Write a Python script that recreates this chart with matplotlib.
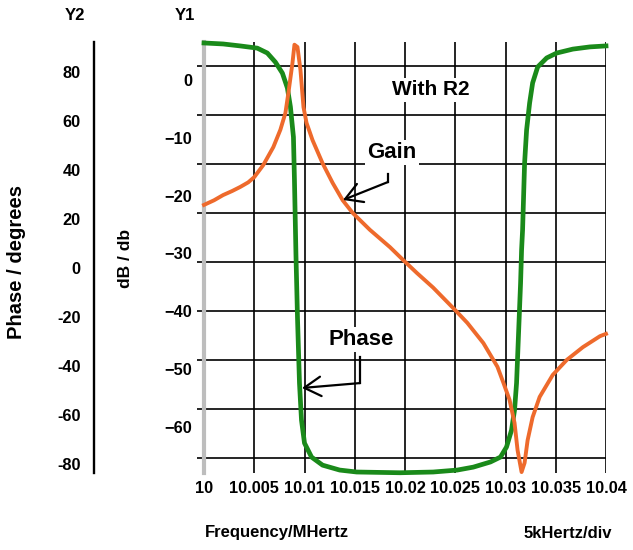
import matplotlib
matplotlib.use("Agg")
import matplotlib.pyplot as plt
from matplotlib.transforms import ScaledTranslation

# ---------------- data ----------------
freq_gain = [10.0000, 10.0010, 10.0019, 10.0028, 10.0036, 10.0044, 10.0050, 10.0059,
             10.0069, 10.0076, 10.0081, 10.0084, 10.0088, 10.0090, 10.0093, 10.0096,
             10.0099, 10.0102, 10.0108, 10.0118, 10.0128, 10.0138, 10.0148, 10.0165,
             10.0185, 10.0198, 10.0212, 10.0228, 10.0250, 10.0262, 10.0278, 10.0292,
             10.0298, 10.0304, 10.0309, 10.0312, 10.0316, 10.0319, 10.0322, 10.0327,
             10.0334, 10.0347, 10.0361, 10.0377, 10.0394, 10.0400]
gain_db = [-21.6, -20.8, -19.9, -19.2, -18.5, -17.7, -16.8, -14.7,
           -11.6, -8.6, -5.7, -2.2, 2.9, 6.1, 5.7, 1.7,
           -4.7, -7.4, -10.4, -14.4, -17.8, -20.8, -23.0, -25.9,
           -28.9, -31.1, -33.4, -35.9, -39.8, -42.0, -45.5, -49.6,
           -52.4, -55.3, -59.3, -64.0, -67.8, -66.2, -62.3, -58.3,
           -54.8, -51.0, -48.4, -46.2, -44.3, -43.9]

freq_phase = [10.0000, 10.0019, 10.0036, 10.0053, 10.0063, 10.0071, 10.0078, 10.0083,
              10.0086, 10.0089, 10.0090, 10.00915, 10.0093, 10.0095, 10.0097, 10.0100,
              10.0107, 10.0118, 10.0135, 10.0152, 10.0195, 10.0228, 10.0252, 10.0268,
              10.0285, 10.0295, 10.0301, 10.0306, 10.0309, 10.0311, 10.0313, 10.0315,
              10.0316, 10.0317, 10.0319, 10.0321, 10.0324, 10.0327, 10.0332, 10.0341,
              10.0351, 10.0367, 10.0384, 10.0400]
phase_deg = [89.4, 89.0, 88.2, 87.3, 85.3, 81.6, 77.1, 71.0,
             63.3, 51.0, 33.5, 2.9, -22.4, -49.4, -64.5, -73.9,
             -79.6, -82.9, -84.9, -85.7, -86.0, -85.7, -84.9, -83.7,
             -81.6, -79.6, -75.5, -68.6, -60.4, -49.4, -29.0, -8.6,
             4.9, 13.1, 40.4, 53.9, 64.9, 73.1, 79.6, 83.3,
             85.3, 86.9, 87.8, 88.2]

x_ticks = [10.0, 10.005, 10.01, 10.015, 10.02, 10.025, 10.03, 10.035, 10.04]
x_tick_labels = ["10", "10.005", "10.01", "10.015", "10.02", "10.025", "10.03", "10.035", "10.04"]
y1_ticks = [0, -10, -20, -30, -40, -50, -60]
y2_ticks = [80, 60, 40, 20, 0, -20, -40, -60, -80]

# annotation anchors (data units)
gain_label_pos = (10.0187, -12.6)
gain_arrow_corner = (10.01831, -17.64)
gain_arrow_start = (10.01831, -16.2)
gain_arrow_tip = (10.01383, -20.75)
phase_label_pos = (10.01562, -31.8)
phase_arrow_start = (10.01552, -38.6)
phase_arrow_corner = (10.01552, -49.4)
phase_arrow_tip = (10.00975, -51.4)
note_pos = (10.0226, -1.73)

# ---------------- style ----------------
plt.rcParams['font.family'] = ['Liberation Sans', 'DejaVu Sans']
plt.rcParams['font.weight'] = 'bold'

ORANGE = '#EE6A2C'
GREEN = '#1A8A1A'
W, H = 633, 550

fig = plt.figure(figsize=(W / 100, H / 100), dpi=100)
ax = fig.add_axes([204 / W, 77 / H, 402 / W, 431 / H])
ax.set_xlim(10.0, 10.04)
ax.set_ylim(-86.1, 89.8)
ax.set_xticks(x_ticks)
ax.set_xticklabels(x_tick_labels)
ax.set_yticks(y2_ticks)
ax.set_yticklabels([])
ax.grid(True, color='black', lw=1.2)
ax.set_axisbelow(True)
ax.tick_params(axis='x', length=0, pad=6, labelsize=11.8)
ax.tick_params(axis='y', length=5, width=1.2, color='black', direction='out')
for s in ['top', 'right', 'bottom']:
    ax.spines[s].set_visible(False)
ax.spines['left'].set_color('#bdbdbd')
ax.spines['left'].set_linewidth(3)
ax.spines['left'].set_zorder(2.6)

ax.plot(freq_phase, phase_deg, color=GREEN, lw=3.4, clip_on=False,
        solid_joinstyle='round', zorder=3)

# Y2 axis (phase labels) on a separate line to the left
sec = ax.secondary_yaxis(-110 / 402)
sec.set_yticks(y2_ticks)
sec.set_yticklabels([str(v) for v in y2_ticks])
sec.tick_params(axis='y', length=0, pad=9.5, labelsize=11.8)
sec.spines['left'].set_linewidth(1.7)
sec.spines['left'].set_color('black')
off = ScaledTranslation(0, -4.5 / 72, fig.dpi_scale_trans)
for t in sec.yaxis.get_major_ticks():
    t.label1.set_transform(t.label1.get_transform() + off)

# Y1 axis (gain)
ax_g = ax.twinx()
ax_g.set_ylim(-67.96, 6.57)
ax_g.set_yticks(y1_ticks)
ax_g.yaxis.tick_left()
ax_g.tick_params(axis='y', length=0, pad=8.6, labelsize=11.8)
for s in ax_g.spines.values():
    s.set_visible(False)
ax_g.plot(freq_gain, gain_db, color=ORANGE, lw=2.8, clip_on=False,
          solid_joinstyle='round', zorder=2)

box = dict(facecolor='white', edgecolor='none', pad=1.5)
ax_g.text(*note_pos, 'With R2', ha='center', va='center', fontsize=15, bbox=box, zorder=5)
ax_g.text(*gain_label_pos, 'Gain', ha='center', va='center', fontsize=16, bbox=box, zorder=5)
ax_g.plot([gain_arrow_start[0], gain_arrow_corner[0]], [gain_arrow_start[1], gain_arrow_corner[1]],
          color='black', lw=1.6, zorder=6)
ax_g.annotate('', xy=gain_arrow_tip, xytext=gain_arrow_corner,
              arrowprops=dict(arrowstyle='->,head_length=0.6,head_width=0.35', lw=1.6,
                              color='black', shrinkA=0, shrinkB=0, mutation_scale=20),
              zorder=6)

ax.text(*phase_label_pos, 'Phase', ha='center', va='center', fontsize=16, bbox=box, zorder=5)
ax.plot([phase_arrow_start[0], phase_arrow_corner[0]], [phase_arrow_start[1], phase_arrow_corner[1]],
        color='black', lw=1.6, zorder=6)
ax.annotate('', xy=phase_arrow_tip, xytext=phase_arrow_corner,
            arrowprops=dict(arrowstyle='->,head_length=0.6,head_width=0.35', lw=1.6,
                            color='black', shrinkA=0, shrinkB=0, mutation_scale=20),
            zorder=6)

# outer labels
fig.text(75 / W, 1 - 16 / H, 'Y2', ha='center', va='center', fontsize=12)
fig.text(185 / W, 1 - 16 / H, 'Y1', ha='center', va='center', fontsize=12)
fig.text(17 / W, 1 - 262 / H, 'Phase / degrees', ha='center', va='center', rotation=90, fontsize=14.5)
fig.text(125 / W, 1 - 258 / H, 'dB / db', ha='center', va='center', rotation=90, fontsize=12.5)
fig.text(205 / W, 1 - 533 / H, 'Frequency/MHertz', ha='left', va='center', fontsize=12)
fig.text(612 / W, 1 - 533 / H, '5kHertz/div', ha='right', va='center', fontsize=12)

fig.savefig('out.png', dpi=100)
